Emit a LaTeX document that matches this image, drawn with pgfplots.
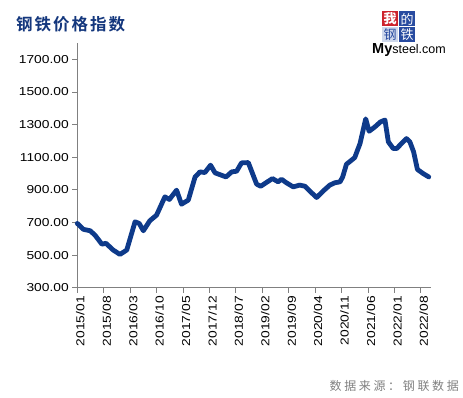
\documentclass[border=0pt]{standalone}
\usepackage{pgfplots}
\pgfplotsset{compat=1.18}
\usepackage{fontspec}
\setmainfont{Liberation Sans}
\newfontfamily\tickfont[FakeStretch=1.2]{Liberation Sans}
\newfontfamily\cjk{Noto Sans CJK SC}
\newfontfamily\cjkspaced[LetterSpace=22]{Noto Sans CJK SC}
\newfontfamily\cjktitle[LetterSpace=12]{Noto Sans CJK SC Bold}
\definecolor{linecol}{RGB}{14,58,138}
\definecolor{titlecol}{RGB}{20,55,125}
\definecolor{axgray}{RGB}{128,128,128}
\definecolor{logored}{RGB}{205,35,45}
\definecolor{logoblue}{RGB}{40,75,160}
\definecolor{logolight}{RGB}{205,215,235}
\begin{document}
\begin{tikzpicture}
\useasboundingbox (0pt,0pt) rectangle (463pt,397pt);
\begin{axis}[
  at={(77.3pt,109.3pt)}, anchor=south west,
  scale only axis, width=353.7pt, height=244.7pt,
  xmin=0, xmax=93.7, ymin=300, ymax=1800,
  axis x line*=bottom, axis y line*=left,
  axis line style={axgray, line width=0.8pt, -},
  xtick={0,7,14,21,28,35,42,49,56,63,70,77,84,91},
  xticklabels={2015/01,2015/08,2016/03,2016/10,2017/05,2017/12,2018/07,2019/02,2019/09,2020/04,2020/11,2021/06,2022/01,2022/08},
  ytick={300,500,700,900,1100,1300,1500,1700},
  yticklabels={300.00,500.00,700.00,900.00,1100.00,1300.00,1500.00,1700.00},
  tick style={axgray, line width=0.8pt},
  tick align=outside, major tick length=5pt,
  xticklabel style={rotate=90, anchor=east, yshift=-3pt, font=\tickfont\fontsize{11.5}{12}\selectfont, black},
  yticklabel style={font=\tickfont\fontsize{11.5}{12}\selectfont, black},
  /pgf/number format/assume math mode=true,
  clip=false,
]
\addplot[linecol, line width=4.8pt, line join=round, line cap=round] coordinates {
(0,694) (1.6,658) (3.4,649) (4.7,622) (6.5,567) (7.6,572) (9.5,531) (11.3,504)
(13.1,531) (15.3,704) (16.4,694) (17.5,649) (19.2,710) (21,745) (23.2,857)
(24.4,841) (26.3,898) (27.6,812) (29.4,837) (31.2,979) (32.5,1010) (33.8,1006)
(35.3,1051) (36.5,1004) (39.4,979) (40.9,1010) (42.2,1014) (43.5,1065) (45.3,1067)
(47.5,935) (48.6,922) (49.7,939) (51.7,969) (53.2,949) (54.1,965) (55.4,943)
(57.2,918) (58.9,929) (60.3,922) (61.6,892) (63.4,853) (65.1,892) (66.9,929)
(68.2,943) (69.6,949) (70.3,979) (71.3,1057) (72.4,1077) (73.5,1098) (74.9,1184)
(76.4,1335) (77.3,1259) (78.8,1285) (80.3,1316) (81.5,1328) (82.4,1194) (83.7,1153)
(84.6,1153) (85.9,1184) (87.2,1214) (88.1,1194) (89.1,1132) (90.1,1025) (91.6,1000)
(93.1,979)
};
\end{axis}
% title
\node[anchor=west, text=titlecol, inner sep=0pt] at (16pt,373pt) {\cjktitle\fontsize{16.5}{17}\selectfont 钢铁价格指数};
% source
\node[anchor=east, text=axgray, inner sep=0pt] at (459pt,11pt) {\cjkspaced\fontsize{12}{13}\selectfont 数据来源：钢联数据};
% logo
\fill[logored] (382pt,370.5pt) rectangle (398pt,385.5pt);
\fill[logoblue] (399pt,370.5pt) rectangle (415pt,385.5pt);
\fill[logolight] (382pt,355pt) rectangle (398pt,370pt);
\fill[logoblue] (399pt,355pt) rectangle (415pt,370pt);
\node[text=white, inner sep=0pt] at (390pt,378pt) {\cjk\bfseries\fontsize{13}{13}\selectfont 我};
\node[text=white, inner sep=0pt] at (407pt,378pt) {\cjk\fontsize{13}{13}\selectfont 的};
\node[text=logoblue, inner sep=0pt] at (390pt,362.5pt) {\cjk\fontsize{13}{13}\selectfont 钢};
\node[text=white, inner sep=0pt] at (407pt,362.5pt) {\cjk\fontsize{13}{13}\selectfont 铁};
\node[anchor=base west, inner sep=0pt] at (372pt,343pt) {\textbf{\fontsize{14.5}{14}\selectfont My}\fontsize{12.5}{12}\selectfont steel.com};
\end{tikzpicture}
\end{document}
